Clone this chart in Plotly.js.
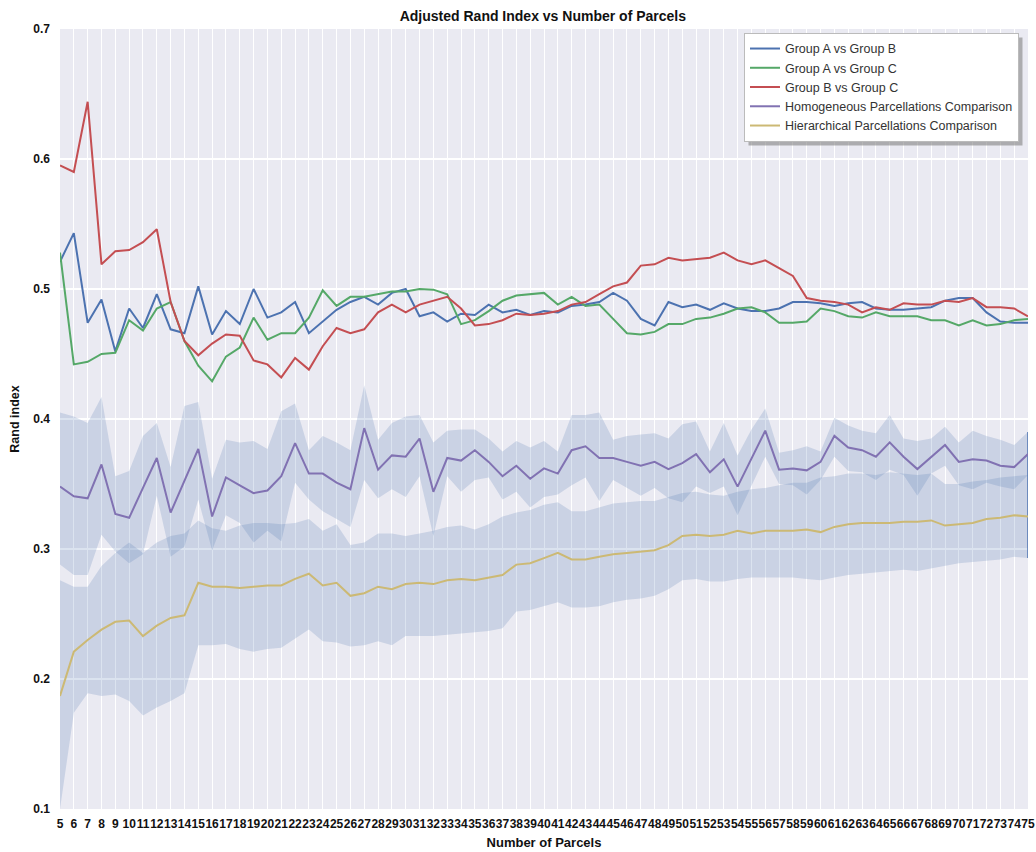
<!DOCTYPE html>
<html>
<head>
<meta charset="utf-8">
<script src="https://cdn.plot.ly/plotly-3.0.1.min.js"></script>
<style>html,body{margin:0;padding:0;background:#fff;}#chart{width:1036px;height:852px;}</style>
</head>
<body>
<div id="chart"></div>
<script>
// Number of parcels 5..75
var parcels = [5,6,7,8,9,10,11,12,13,14,15,16,17,18,19,20,21,22,23,24,25,26,27,28,29,30,31,32,33,34,35,36,37,38,39,40,41,42,43,44,45,46,47,48,49,50,51,52,53,54,55,56,57,58,59,60,61,62,63,64,65,66,67,68,69,70,71,72,73,74,75];

var groupAvsB = [0.521,0.543,0.474,0.492,0.452,0.485,0.470,0.496,0.469,0.466,
  0.502,0.465,0.483,0.473,0.500,0.478,0.482,0.490,0.466,0.475,
  0.484,0.490,0.494,0.488,0.497,0.500,0.479,0.482,0.475,0.481,
  0.480,0.488,0.482,0.484,0.480,0.483,0.482,0.487,0.488,0.490,
  0.497,0.491,0.477,0.472,0.490,0.486,0.488,0.484,0.489,0.485,
  0.483,0.483,0.485,0.490,0.490,0.489,0.487,0.489,0.490,0.485,
  0.484,0.484,0.485,0.486,0.491,0.493,0.493,0.482,0.475,0.474,0.474];

var groupAvsC = [0.528,0.442,0.444,0.450,0.451,0.476,0.468,0.485,0.490,0.460,
  0.441,0.429,0.448,0.455,0.478,0.461,0.466,0.466,0.478,0.499,
  0.487,0.494,0.494,0.496,0.498,0.498,0.500,0.4995,0.496,0.473,
  0.476,0.483,0.491,0.495,0.496,0.497,0.488,0.494,0.487,0.488,
  0.477,0.466,0.465,0.467,0.473,0.473,0.477,0.478,0.481,0.485,
  0.486,0.482,0.474,0.474,0.475,0.485,0.483,0.479,0.478,0.482,
  0.479,0.479,0.479,0.476,0.476,0.472,0.476,0.472,0.473,0.476,0.477];

var groupBvsC = [0.595,0.590,0.644,0.519,0.529,0.530,0.536,0.546,0.490,0.460,
  0.449,0.458,0.465,0.464,0.445,0.442,0.432,0.447,0.438,0.456,
  0.470,0.466,0.469,0.482,0.488,0.482,0.488,0.491,0.494,0.485,
  0.472,0.473,0.476,0.481,0.480,0.481,0.483,0.488,0.490,0.496,
  0.502,0.505,0.518,0.519,0.524,0.522,0.523,0.524,0.528,0.522,
  0.519,0.522,0.516,0.510,0.493,0.491,0.490,0.488,0.482,0.486,
  0.484,0.489,0.488,0.488,0.491,0.490,0.493,0.486,0.486,0.485,0.479];

var homMean = [0.348,0.3405,0.339,0.365,0.327,0.324,0.347,0.370,0.328,0.353,
  0.377,0.325,0.355,0.349,0.343,0.345,0.356,0.3815,0.358,0.358,
  0.351,0.346,0.393,0.361,0.372,0.371,0.385,0.344,0.370,0.368,
  0.376,0.367,0.356,0.364,0.354,0.362,0.358,0.376,0.379,0.370,
  0.370,0.367,0.364,0.367,0.3615,0.366,0.373,0.359,0.369,0.348,
  0.369,0.391,0.361,0.362,0.3605,0.367,0.387,0.378,0.376,0.371,
  0.382,0.371,0.3615,0.371,0.380,0.367,0.369,0.368,0.364,0.363,0.373];

var homUpper = [0.405,0.402,0.397,0.417,0.356,0.360,0.387,0.397,0.363,0.410,
  0.413,0.354,0.384,0.382,0.383,0.377,0.406,0.412,0.376,0.387,
  0.382,0.376,0.426,0.384,0.397,0.402,0.403,0.382,0.391,0.392,
  0.392,0.385,0.375,0.383,0.378,0.383,0.375,0.403,0.403,0.405,
  0.384,0.387,0.388,0.389,0.385,0.396,0.398,0.375,0.397,0.372,
  0.392,0.408,0.374,0.376,0.379,0.375,0.401,0.395,0.391,0.389,
  0.403,0.385,0.383,0.385,0.394,0.382,0.391,0.387,0.384,0.380,0.390];

var homLower = [0.288,0.280,0.280,0.311,0.298,0.289,0.296,0.341,0.294,0.302,
  0.338,0.299,0.326,0.320,0.305,0.314,0.306,0.351,0.338,0.329,
  0.323,0.317,0.353,0.339,0.346,0.340,0.356,0.310,0.356,0.344,
  0.353,0.355,0.338,0.344,0.332,0.340,0.342,0.349,0.355,0.337,
  0.353,0.347,0.341,0.347,0.339,0.336,0.348,0.343,0.348,0.326,
  0.348,0.371,0.350,0.349,0.342,0.353,0.371,0.360,0.359,0.353,
  0.361,0.357,0.341,0.358,0.364,0.349,0.346,0.351,0.348,0.346,0.357];

var hierMean = [0.187,0.221,0.230,0.238,0.244,0.245,0.233,0.241,0.247,0.249,
  0.274,0.271,0.271,0.270,0.271,0.272,0.272,0.277,0.281,0.272,
  0.274,0.264,0.266,0.271,0.269,0.273,0.274,0.273,0.276,0.277,
  0.276,0.278,0.280,0.288,0.289,0.293,0.297,0.292,0.292,0.294,
  0.296,0.297,0.298,0.299,0.303,0.310,0.311,0.310,0.311,0.314,
  0.312,0.314,0.314,0.314,0.315,0.313,0.317,0.319,0.320,0.320,
  0.320,0.321,0.321,0.322,0.318,0.319,0.320,0.323,0.324,0.326,0.325];

var hierUpper = [0.276,0.271,0.271,0.287,0.297,0.305,0.297,0.305,0.310,0.312,
  0.322,0.316,0.314,0.318,0.320,0.320,0.319,0.320,0.323,0.314,
  0.319,0.303,0.305,0.312,0.312,0.310,0.312,0.314,0.317,0.318,
  0.315,0.319,0.325,0.328,0.330,0.334,0.336,0.329,0.329,0.332,
  0.335,0.336,0.337,0.337,0.340,0.343,0.344,0.342,0.341,0.344,
  0.346,0.347,0.349,0.351,0.351,0.355,0.356,0.358,0.358,0.357,
  0.359,0.358,0.357,0.358,0.350,0.350,0.352,0.353,0.355,0.356,0.357];

var hierLower = [0.100,0.174,0.189,0.187,0.188,0.183,0.172,0.178,0.183,0.189,
  0.226,0.226,0.227,0.223,0.221,0.223,0.224,0.231,0.238,0.229,
  0.228,0.225,0.226,0.229,0.226,0.233,0.233,0.233,0.234,0.235,
  0.236,0.237,0.239,0.252,0.253,0.256,0.259,0.255,0.255,0.256,
  0.259,0.261,0.262,0.264,0.269,0.276,0.277,0.275,0.275,0.277,
  0.278,0.278,0.278,0.278,0.277,0.276,0.278,0.280,0.281,0.282,
  0.283,0.284,0.283,0.285,0.287,0.289,0.290,0.291,0.292,0.294,0.293];

var yTicks = [0.1,0.2,0.3,0.4,0.5,0.6,0.7];
var yTickText = ['0.1','0.2','0.3','0.4','0.5','0.6','0.7'];

var bandFill = 'rgba(76,114,176,0.2)';
var last = parcels.length - 1;
var FONT = 'Liberation Sans, Arial, sans-serif';

var traces = [
  {x: parcels, y: homUpper, type: 'scatter', mode: 'lines', line: {width: 0, color: bandFill}, showlegend: false, hoverinfo: 'skip'},
  {x: parcels, y: homLower, type: 'scatter', mode: 'lines', line: {width: 0, color: bandFill}, fill: 'tonexty', fillcolor: bandFill, showlegend: false, hoverinfo: 'skip'},
  {x: parcels, y: hierUpper, type: 'scatter', mode: 'lines', line: {width: 0, color: bandFill}, showlegend: false, hoverinfo: 'skip'},
  {x: parcels, y: hierLower, type: 'scatter', mode: 'lines', line: {width: 0, color: bandFill}, fill: 'tonexty', fillcolor: bandFill, showlegend: false, hoverinfo: 'skip'},
  {x: [parcels[last], parcels[last]], y: [hierLower[last], homUpper[last]], type: 'scatter', mode: 'lines', line: {width: 2, color: 'rgba(76,114,176,0.75)'}, showlegend: false, hoverinfo: 'skip'},
  {x: parcels, y: groupAvsB, type: 'scatter', mode: 'lines', name: 'Group A vs Group B', line: {color: '#4C72B0', width: 2}},
  {x: parcels, y: groupAvsC, type: 'scatter', mode: 'lines', name: 'Group A vs Group C', line: {color: '#55A868', width: 2}},
  {x: parcels, y: groupBvsC, type: 'scatter', mode: 'lines', name: 'Group B vs Group C', line: {color: '#C44E52', width: 2}},
  {x: parcels, y: homMean, type: 'scatter', mode: 'lines', name: 'Homogeneous Parcellations Comparison', line: {color: '#8172B2', width: 2}},
  {x: parcels, y: hierMean, type: 'scatter', mode: 'lines', name: 'Hierarchical Parcellations Comparison', line: {color: '#CCB974', width: 2}}
];

var layout = {
  width: 1036, height: 852,
  margin: {l: 60, r: 8, t: 29, b: 43, pad: 0},
  paper_bgcolor: '#ffffff',
  plot_bgcolor: '#EAEAF2',
  font: {family: FONT, color: '#111111', size: 12},
  title: {text: 'Adjusted Rand Index vs Number of Parcels', x: 0.524, xanchor: 'center', y: 0.981, yanchor: 'middle',
          font: {family: FONT, size: 14, weight: 'bold', color: '#111111'}},
  xaxis: {
    range: [5, 75], tickmode: 'linear', tick0: 5, dtick: 1, tickangle: 0,
    showgrid: true, gridcolor: '#ffffff', gridwidth: 1, zeroline: false, showline: false,
    ticks: '', ticklabelstandoff: 6,
    tickfont: {family: FONT, size: 12, weight: 'bold', color: '#111111'},
    title: {text: 'Number of Parcels', standoff: 7, font: {family: FONT, size: 13, weight: 'bold', color: '#111111'}}
  },
  yaxis: {
    range: [0.1, 0.7], tickmode: 'array', tickvals: yTicks, ticktext: yTickText,
    showgrid: true, gridcolor: '#ffffff', gridwidth: 1.5, zeroline: false, showline: false,
    ticks: '', ticklabelstandoff: 9,
    tickfont: {family: FONT, size: 12, weight: 'bold', color: '#111111'},
    title: {text: 'Rand index', standoff: 10, font: {family: FONT, size: 12.5, weight: 'bold', color: '#111111'}}
  },
  legend: {
    x: 0.7066, y: 0.995, xanchor: 'left', yanchor: 'top', traceorder: 'normal',
    bgcolor: '#ffffff', bordercolor: '#bbbbbb', borderwidth: 1,
    font: {family: FONT, size: 12.5, color: '#333333'},
    tracegroupgap: 0
  },
  showlegend: true
};

Plotly.newPlot('chart', traces, layout, {displayModeBar: false, staticPlot: true}).then(function (gd) {
  // legend drop shadow, placed from the rendered legend box
  var bg = gd.querySelector('.legend .bg');
  if (!bg) return;
  var r = bg.getBoundingClientRect();
  var c = gd.getBoundingClientRect();
  var fl = gd._fullLayout, sz = fl._size;
  var off = 4;
  function px2x(p) { return (p - c.left - sz.l) / sz.w; }
  function px2y(p) { return 1 - (p - c.top - sz.t) / sz.h; }
  Plotly.relayout(gd, {shapes: [{
    type: 'rect', xref: 'paper', yref: 'paper', layer: 'above',
    x0: px2x(r.left + off), x1: px2x(r.right + off),
    y0: px2y(r.bottom + off), y1: px2y(r.top + off),
    fillcolor: 'rgba(120,120,120,0.55)', line: {width: 0}
  }]});
});
</script>
</body>
</html>
